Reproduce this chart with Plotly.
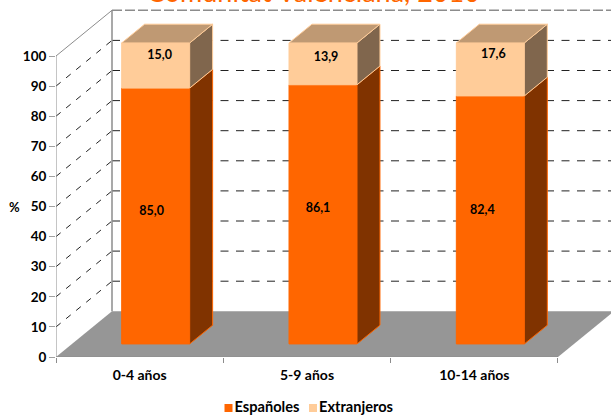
import plotly.graph_objects as go

categories = ["0-4 años", "5-9 años", "10-14 años"]
espanoles = [85.0, 86.1, 82.4]
extranjeros = [15.0, 13.9, 17.6]
y_ticks = [0, 10, 20, 30, 40, 50, 60, 70, 80, 90, 100]
series_names = ["Españoles", "Extranjeros"]

W, H = 611, 416
L, B = 56, 357
UX = 167.33           # px per category
UY = 3.01             # px per y unit
DX_WALL, DY_WALL = 56 / UX, 45.7 / UY   # floor depth in data units
BAR_W = 68 / UX
F0, F1 = 0.286, 0.696  # bar front / back as a fraction of the floor depth

ORANGE, ORANGE_SIDE = "#FF6600", "#803300"
PEACH, PEACH_SIDE, PEACH_TOP = "#FFCC99", "#80664D", "#BF9973"
GREY = "#969696"
FONT = "Lato"

x_pos = [i + 0.5 + F0 * DX_WALL for i in range(3)]
base0 = F0 * DY_WALL
ddx, ddy = (F1 - F0) * DX_WALL, (F1 - F0) * DY_WALL

fig = go.Figure()

# front faces
fig.add_bar(x=x_pos, y=espanoles, base=[base0] * 3, width=BAR_W, name=series_names[0],
            showlegend=False,
            marker=dict(color=ORANGE, line=dict(color=ORANGE, width=1)))
fig.add_bar(x=x_pos, y=extranjeros, base=[base0 + v for v in espanoles], width=BAR_W,
            name=series_names[1], showlegend=False,
            marker=dict(color=PEACH, line=dict(color=PEACH, width=1)))


def face(xs, ys, fill, line):
    fig.add_scatter(x=xs, y=ys, mode="lines", fill="toself", fillcolor=fill,
                    line=dict(color=line, width=1), showlegend=False, hoverinfo="skip")


for xc, a, b in zip(x_pos, espanoles, extranjeros):
    r = xc + BAR_W / 2
    l = xc - BAR_W / 2
    y0, y1, y2 = base0, base0 + a, base0 + a + b
    face([r, r + ddx, r + ddx, r, r], [y0, y0 + ddy, y1 + ddy, y1, y0], ORANGE_SIDE, ORANGE)
    face([r, r + ddx, r + ddx, r, r], [y1, y1 + ddy, y2 + ddy, y2, y1], PEACH_SIDE, PEACH)
    face([l, r, r + ddx, l + ddx, l], [y2, y2, y2 + ddy, y2 + ddy, y2], PEACH_TOP, PEACH)

# data labels (offsets in pixels from the front-face centre, dy upward)
lab_dx = {"a": [-4, -5, -8], "b": [4, 3, 3]}
lab_dy = {"a": [4, 5, 9.5], "b": [10, 6, 15]}
def fmt(v):
    return f"{v:.1f}".replace(".", ",")

lx, ly, lt = [], [], []
for i in range(3):
    lx.append(x_pos[i] + lab_dx["a"][i] / UX)
    ly.append(base0 + espanoles[i] / 2 + lab_dy["a"][i] / UY)
    lt.append(fmt(espanoles[i]))
    lx.append(x_pos[i] + lab_dx["b"][i] / UX)
    ly.append(base0 + espanoles[i] + extranjeros[i] / 2 + lab_dy["b"][i] / UY)
    lt.append(fmt(extranjeros[i]))
fig.add_scatter(x=lx, y=ly, text=lt, mode="text", textposition="middle center",
                textfont=dict(family=FONT, size=12.5, color="#000000", weight="bold"),
                showlegend=False, hoverinfo="skip")

# key in its own strip below the axis: close-set swatches and names
for name, color, px in zip(series_names, [ORANGE, PEACH], [228.5, 313]):
    fig.add_scatter(x=[px], y=[8], text=[name], mode="markers+text", xaxis="x2", yaxis="y2",
                    textposition="middle right", showlegend=False,
                    marker=dict(symbol="square", size=8, color=color),
                    textfont=dict(family=FONT, size=14.6, color="#000000", weight="bold"),
                    name=name, hoverinfo="skip")

# walls, floor and grid
shapes = []
def line(x0, y0, x1, y1, color, width=1, dash="solid"):
    shapes.append(dict(type="line", x0=x0, y0=y0, x1=x1, y1=y1, layer="below",
                       line=dict(color=color, width=width, dash=dash)))

n = len(categories)
xmax = (W - L) / UX
shapes.append(dict(type="path", layer="below", fillcolor=GREY, line=dict(width=0),
                   path=f"M 0 0 L {n} 0 L {n + DX_WALL} {DY_WALL} L {DX_WALL} {DY_WALL} Z"))
for v in y_ticks[1:-1]:
    line(0, v, DX_WALL, v + DY_WALL, "#222222", 1, "6px,7px")
    line(DX_WALL, v + DY_WALL, xmax, v + DY_WALL, "#222222", 1, "8px,7.5px")
line(0, 100, DX_WALL, 100 + DY_WALL, "#8C8C8C", 1)
line(DX_WALL, 100 + DY_WALL, xmax, 100 + DY_WALL, "#8C8C8C", 1.5, "10px,3px")
line(DX_WALL, DY_WALL, DX_WALL, 100 + DY_WALL, "#8C8C8C", 1.5)
line(0, 0, 0, 100, "#8C8C8C", 1)
line(0, 0, n, 0, "#8C8C8C", 1)

fig.update_layout(
    width=W, height=H, autosize=False, paper_bgcolor="white", plot_bgcolor="rgba(0,0,0,0)",
    margin=dict(l=0, r=0, t=0, b=0, autoexpand=False), barmode="overlay", shapes=shapes,
    showlegend=False,
    font=dict(family=FONT, size=12, color="#000000"),
    xaxis=dict(domain=[L / W, 1], range=[0, xmax], tickvals=[i + 0.5 for i in range(n)],
               ticktext=categories, ticks="outside", ticklen=5, tickcolor="rgba(0,0,0,0)",
               showgrid=False, zeroline=False, showline=False, automargin=False,
               tickfont=dict(family=FONT, size=14, weight="bold"),
               minor=dict(tickvals=list(range(n + 1)), ticks="outside", ticklen=5,
                          tickcolor="#8C8C8C", showgrid=False)),
    yaxis=dict(domain=[(H - B) / H, 1], range=[0, B / UY], tickvals=y_ticks, ticks="outside",
               ticklen=6, tickcolor="#A0A0A0", showgrid=False, zeroline=False, showline=False,
               automargin=False, tickfont=dict(family=FONT, size=13.5, weight="bold")),
    xaxis2=dict(domain=[0, 1], range=[0, W], visible=False, anchor="y2"),
    yaxis2=dict(domain=[0, 16 / H], range=[0, 16], visible=False, anchor="x2"),
    annotations=[
        dict(text="Comunitat Valenciana, 2010", xref="paper", yref="paper", x=313 / W,
             y=1, xanchor="center", yanchor="bottom", showarrow=False, yshift=-10,
             font=dict(family=FONT, size=27, color=ORANGE)),
        dict(text="%", xref="paper", yref="paper", x=15 / W, y=1 - 207 / H,
             xanchor="center", yanchor="middle", showarrow=False,
             font=dict(family=FONT, size=13, weight="bold")),
    ],
)
fig.write_html("out.html", config=dict(displayModeBar=False),
               post_script="document.body.style.margin='0';document.documentElement.style.overflow='hidden';")
